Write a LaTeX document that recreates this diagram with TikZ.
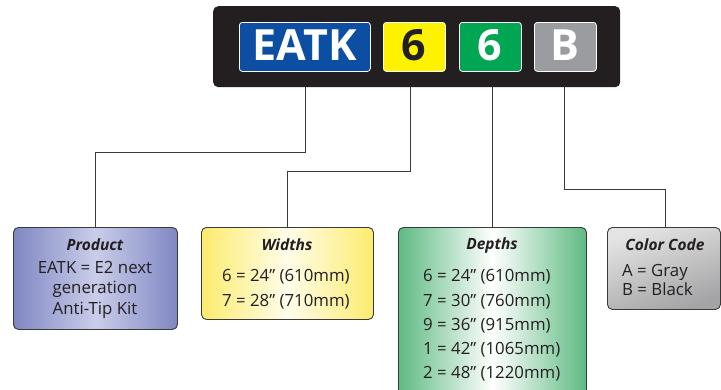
\documentclass[tikz,border=0pt]{standalone}
\usepackage{fontspec}
\setmainfont{Open Sans}
\usetikzlibrary{positioning}
\definecolor{chipblue}{HTML}{0B4EA2}
\definecolor{chipyellow}{HTML}{FFF200}
\definecolor{chipgreen}{HTML}{00A651}
\definecolor{chipgray}{HTML}{9B9C9F}
\definecolor{barblack}{HTML}{231F20}
\definecolor{txt}{HTML}{231F20}
\definecolor{lineg}{HTML}{3A3A3A}
\definecolor{prodE}{HTML}{7F87C3}
\definecolor{prodM}{HTML}{CACDE9}
\definecolor{widE}{HTML}{FCEB6E}
\definecolor{widM}{HTML}{FFFDEA}
\definecolor{depE}{HTML}{5EBA82}
\definecolor{depM}{HTML}{FFFFFF}
\definecolor{colL}{HTML}{E4E4E4}
\definecolor{colD}{HTML}{A4A4A6}
\begin{document}
\begin{tikzpicture}[x=1pt,y=-1pt,
  chip/.style={draw=white,line width=0.8pt,rounded corners=3pt,anchor=north west,inner sep=0pt},
  chiptext/.style={anchor=base,inner sep=0pt,font=\fontsize{43}{43}\selectfont\bfseries},
  infobox/.style={draw=lineg,line width=0.9pt,rounded corners=5pt,anchor=north west,inner sep=0pt},
  title/.style={anchor=base,font=\fontsize{15.5}{15.5}\selectfont\bfseries\itshape,text=txt,inner sep=0pt},
  body/.style={anchor=base,font=\fontsize{16.8}{16.8}\selectfont,text=txt,inner sep=0pt},
  bodyl/.style={body,anchor=base west},
  conn/.style={draw=lineg,line width=0.8pt}]
\useasboundingbox (0,0) rectangle (721,389);
% black bar
\node[fill=barblack,rounded corners=5pt,anchor=north west,minimum width=407pt,minimum height=81pt,inner sep=0pt] (bar) at (213,6) {};
% chips
\node[chip,fill=chipblue,minimum width=131pt,minimum height=49pt] (cE) at (239,22) {};
\node[chip,fill=chipyellow,minimum width=62pt,minimum height=49pt] (cW) at (383,22) {};
\node[chip,fill=chipgreen,minimum width=62pt,minimum height=49pt] (cD) at (459,22) {};
\node[chip,fill=chipgray,minimum width=62pt,minimum height=49pt] (cC) at (534,22) {};
\node[chiptext,text=white] (tE) at (304.5,60) {EATK};
\node[chiptext,text=txt] (tW) at (414,60) {6};
\node[chiptext,text=white] (tD) at (490,60) {6};
\node[chiptext,text=white] (tC) at (565,60) {B};
% info boxes
\node[infobox,minimum width=164pt,minimum height=102pt,left color=prodE,right color=prodE,middle color=prodM] (prod) at (13,227) {};
\node[infobox,minimum width=172pt,minimum height=92pt,left color=widE,right color=widE,middle color=widM] (wid) at (201,227) {};
\node[infobox,minimum width=188pt,minimum height=175pt,left color=depE,right color=depE,middle color=depM] (dep) at (398,227) {};
\node[infobox,minimum width=113pt,minimum height=82pt,shading=axis,top color=colL,bottom color=colD,shading angle=20] (col) at (607,227) {};
% connectors
\coordinate (j1) at (305,152);
\coordinate (k1) at (95,152);
\coordinate (j2) at (410,171);
\coordinate (k2) at (287,171);
\coordinate (j3) at (492,200);
\coordinate (j4) at (564,189);
\coordinate (k4) at (665,189);
\draw[conn] (bar.south -| j1) -- (j1) -- (k1) -- (prod.north -| k1);
\draw[conn] (bar.south -| j2) -- (j2) -- (k2) -- (wid.north -| k2);
\draw[conn] (bar.south -| j3) -- (dep.north -| j3);
\draw[conn] (bar.south -| j4) -- (j4) -- (k4) -- (col.north -| k4);
% product text
\node[title] (pT) at (95,250) {Product};
\node[body] (p1) at (95,273) {EATK = E2 next};
\node[body] (p2) at (95,293.5) {generation};
\node[body] (p3) at (95,314) {Anti-Tip Kit};
% widths text
\node[title] (wT) at (287,250) {Widths};
\node[bodyl] (w1) at (222,281.5) {6 = 24” (610mm)};
\node[bodyl] (w2) at (222,306) {7 = 28” (710mm)};
% depths text
\node[title] (dT) at (492,249) {Depths};
\node[bodyl] (d1) at (423,281.5) {6 = 24” (610mm)};
\node[bodyl] (d2) at (423,306) {7 = 30” (760mm)};
\node[bodyl] (d3) at (423,330.2) {9 = 36” (915mm)};
\node[bodyl] (d4) at (423,354.5) {1 = 42” (1065mm)};
\node[bodyl] (d5) at (423,378.8) {2 = 48” (1220mm)};
% color code text
\node[title] (cT) at (665,250) {Color Code};
\node[bodyl] (c1) at (622,276) {A = Gray};
\node[bodyl] (c2) at (622,295) {B = Black};
\end{tikzpicture}
\end{document}
